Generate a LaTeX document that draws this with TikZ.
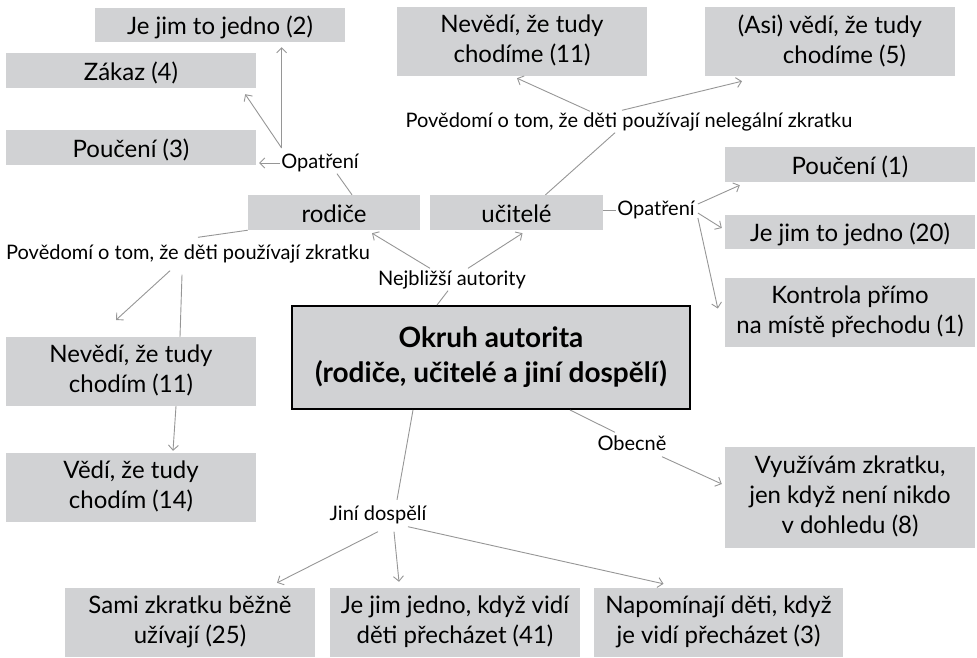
\documentclass[tikz,border=0pt]{standalone}
\usepackage{fontspec}
\setmainfont{Lato}
\usetikzlibrary{arrows.meta}
\definecolor{boxgrey}{RGB}{209,210,212}
\definecolor{linegrey}{RGB}{150,150,150}

\begin{document}
\begin{tikzpicture}[x=1pt,y=-1pt,
  greybox/.style={fill=boxgrey, inner sep=0pt, align=center},
  box/.style={greybox, font=\fontsize{24}{30}\selectfont, minimum width=250pt,
    execute at begin node={\rule{0pt}{24pt}},
    execute at end node={\rule[-5pt]{0pt}{5pt}}},
  corebox/.style={greybox, draw=black, line width=2pt,
    font=\bfseries\fontsize{28}{35}\selectfont,
    execute at begin node={\rule{0pt}{32pt}},
    execute at end node={\rule[-5pt]{0pt}{5pt}}},
  lbl/.style={inner sep=1pt, text height=15pt, text depth=4pt,
    font=\fontsize{20}{22}\selectfont},
  link/.style={draw=linegrey, line width=0.9pt},
  arr/.style={link, -{Straight Barb[length=5pt,width=10pt]}},
]
\useasboundingbox (0,0) rectangle (977,657);

% category boxes
\node[box, minimum height=34pt] (jedno2) at (220,25) {Je jim to jedno (2)};
\node[box, minimum height=35pt] (zakaz4) at (131,70.5) {Zákaz (4)};
\node[box, minimum height=35pt] (pouceni3) at (131,147.5) {Poučení (3)};
\node[box, minimum width=172pt, minimum height=35pt] (rodice) at (334,212.5) {rodiče};
\node[box, minimum width=173pt, minimum height=35pt] (ucitele) at (516.5,212.5) {učitelé};
\node[box, minimum height=69pt] (nev11) at (522,41.5) {Nevědí, že tudy\\chodíme (11)};
\node[box, minimum height=69pt] (asi5) at (830,41.5) {(Asi) vědí, že tudy\\\hspace*{1.2em}chodíme (5)};
\node[box, minimum height=35pt] (pouceni1) at (850,164.5) {Poučení (1)};
\node[box, minimum height=34pt] (jedno20) at (850,232) {Je jim to jedno (20)};
\node[box, minimum height=69pt] (kontrola) at (850,312.5) {Kontrola přímo\\na místě přechodu (1)};
\node[corebox, minimum width=398pt, minimum height=103pt] (core) at (491,357.5)
  {Okruh autorita\\(rodiče, učitelé a jiní dospělí)};
\node[box, minimum height=69pt] (nevedim11) at (131,371.5) {Nevědí, že tudy\\chodím (11)};
\node[box, minimum height=69pt] (vedim14) at (131,487.5) {Vědí, že tudy\\chodím (14)};
\node[box, minimum height=101pt] (vyuziv) at (850,497.5) {Využívám zkratku,\\jen když není nikdo\\v dohledu (8)};
\node[box, minimum height=69pt] (sami) at (190,622.5) {Sami zkratku běžně\\užívají (25)};
\node[box, minimum height=69pt] (jedno41) at (455,622.5) {Je jim jedno, když vidí\\děti přecházet (41)};
\node[box, minimum width=249pt, minimum height=69pt] (napom) at (718.5,622.5) {Napomínají děti, když\\je vidí přecházet (3)};

% connector labels
\node[lbl] (opL) at (320,163) {Opatření};
\node[lbl] (povL) at (188,254) {Povědomí o tom, že děti používají zkratku};
\node[lbl] (povN) at (629,122) {Povědomí o tom, že děti používají nelegální zkratku};
\node[lbl] (opR) at (656,210) {Opatření};
\node[lbl] (nejbl) at (452,280) {Nejbližší autority};
\node[lbl] (obecne) at (632,445) {Obecně};
\node[lbl] (jini) at (378,515) {Jiní dospělí};
\coordinate (stray) at (116,320);

% parents branch
\draw[link] ([shift={(18,0)}]rodice.north) -- ([shift={(17,0)}]opL.south);
\draw[arr, shorten >=3pt] (opL.west) -- (pouceni3.east |- opL.west);
\draw[arr] ([shift={(1.5,-15)}]opL.west) -- ([shift={(-11,6)}]zakaz4.south east);
\draw[arr, shorten >=5pt] ([shift={(1.5,-15)}]opL.west) -- ([shift={(1.5,0)}]opL.west |- jedno2.south);
\draw[link] (rodice.south west) -- ([shift={(10,-6)}]povL.north);
\draw[arr] ([shift={(-18,6)}]povL.south) -- (stray);
\draw[link] ([shift={(-6,10)}]povL.south) -- ([shift={(49,0)}]nevedim11.north);
\draw[arr] ([shift={(45,0)}]nevedim11.south) -- ([shift={(42,-2)}]vedim14.north);

% teachers branch
\draw[link] ([shift={(29,0)}]ucitele.north) -- ([shift={(-14,0)}]povN.south);
\draw[arr] ([shift={(-39,0)}]povN.north) -- ([shift={(-5,2)}]nev11.south);
\draw[arr] ([shift={(-7,-1)}]povN.north) -- ([shift={(-88,5)}]asi5.south);
\draw[link] (ucitele.east |- opR.west) -- (opR.west);
\draw[arr] ([shift={(2,-6)}]opR.east) -- ([shift={(15,3)}]pouceni1.south west);
\draw[arr] ([shift={(2,3)}]opR.east) -- ([shift={(-3,-4)}]jedno20.west);
\draw[arr] ([shift={(2,8)}]opR.east) -- ([shift={(-7,-4)}]kontrola.west);

% closest authorities
\draw[link] ([shift={(-54,0)}]core.north) -- ([shift={(-4,0)}]nejbl.south);
\draw[arr] ([shift={(-22,-1)}]nejbl.north) -- ([shift={(38,3)}]rodice.south);
\draw[arr] ([shift={(16,-1)}]nejbl.north) -- ([shift={(6,3)}]ucitele.south);

% other adults
\draw[link] ([shift={(-78,0)}]core.south) -- ([shift={(19,-4.5)}]jini.north);
\draw[arr] ([shift={(0,6)}]jini.south) -- ([shift={(87,-5)}]sami.north);
\draw[arr] ([shift={(16,6)}]jini.south) -- ([shift={(-56,-6)}]jedno41.north);
\draw[arr] ([shift={(30,1)}]jini.south) -- ([shift={(-55,-4)}]napom.north);

% general
\draw[link] ([shift={(79,0)}]core.south) -- ([shift={(-17,-2)}]obecne.north);
\draw[arr] ([shift={(30,1)}]obecne.south) -- ([shift={(-3,-13.5)}]vyuziv.west);
\end{tikzpicture}
\end{document}
